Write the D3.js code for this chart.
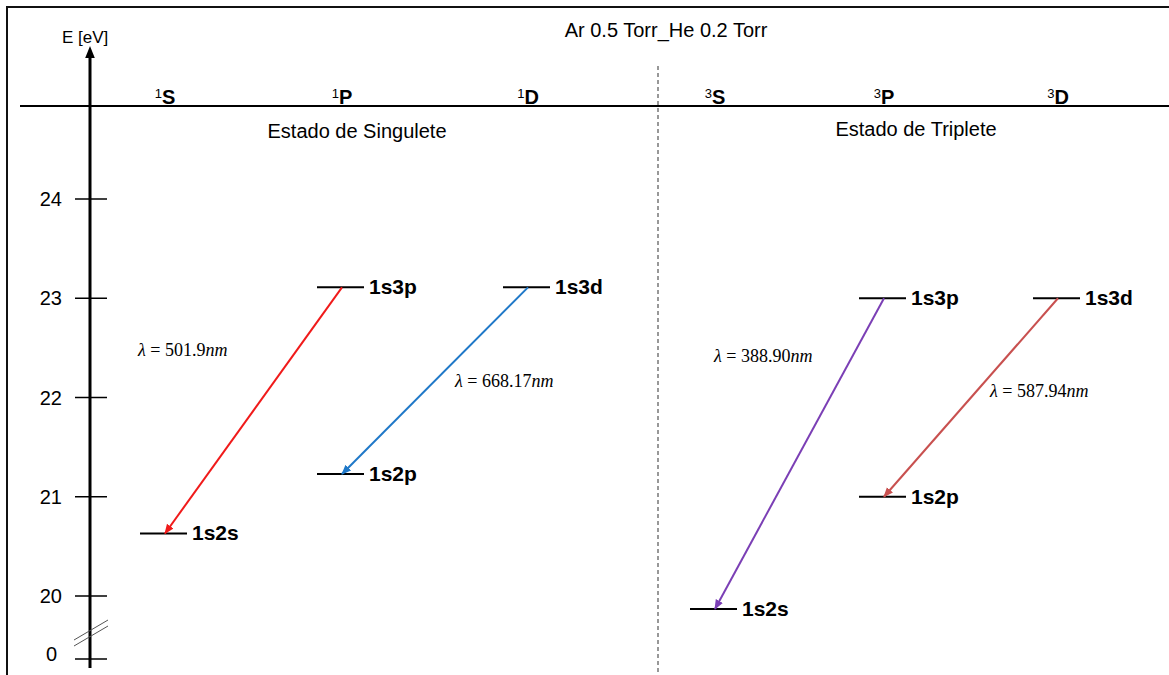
<!DOCTYPE html>
<html><head><meta charset="utf-8">
<script src="https://cdn.jsdelivr.net/npm/d3@7"></script>
<style>body{margin:0;background:#fff}text{font-family:"Liberation Sans",Arial,sans-serif}text.lam{font-family:"Liberation Serif",serif}</style>
</head><body><svg id="c" width="1169" height="675"></svg>
<script>
var ticks = [20, 21, 22, 23, 24];
var multiplicity = ["1", "1", "1", "3", "3", "3"];
var columns = ["S", "P", "D", "S", "P", "D"];
var colX = [165, 342, 528, 715, 884, 1058];
// levels: column index, energy (eV), label
var levels = [
  {col: 0, e: 20.63, name: "1s2s"},
  {col: 1, e: 21.23, name: "1s2p"},
  {col: 1, e: 23.11, name: "1s3p"},
  {col: 2, e: 23.11, name: "1s3d"},
  {col: 3, e: 19.87, name: "1s2s"},
  {col: 4, e: 21.0, name: "1s2p"},
  {col: 4, e: 23.0, name: "1s3p"},
  {col: 5, e: 23.0, name: "1s3d"}
];
// transitions: from level index to level index
var transitions = [
  {from: 2, to: 0, color: "#f01a1a", lam: "501.9", lx: 138, ly: 356},
  {from: 3, to: 1, color: "#1f78c8", lam: "668.17", lx: 455, ly: 387},
  {from: 6, to: 4, color: "#7b3fb5", lam: "388.90", lx: 714, ly: 362},
  {from: 7, to: 5, color: "#c8504f", lam: "587.94", lx: 990, ly: 397}
];

var svg = d3.select("#c");
var y = d3.scaleLinear().domain([20, 24]).range([596, 199]);
var axisX = 90;

svg.append("rect").attr("x", 7).attr("y", 7).attr("width", 1170).attr("height", 680)
  .attr("fill", "none").attr("stroke", "#111").attr("stroke-width", 2);

svg.append("text").attr("x", 666).attr("y", 37).attr("text-anchor", "middle")
  .attr("font-size", 20).text("Ar 0.5 Torr_He 0.2 Torr");

var defs = svg.append("defs");
defs.append("marker").attr("id", "ax").attr("viewBox", "0 0 10 10").attr("refX", 5).attr("refY", 5)
  .attr("markerWidth", 4).attr("markerHeight", 4).attr("orient", "auto")
  .append("path").attr("d", "M0,1L10,5L0,9Z").attr("fill", "#000");
transitions.forEach(function (t, i) {
  defs.append("marker").attr("id", "m" + i).attr("viewBox", "0 0 10 10").attr("refX", 9).attr("refY", 5)
    .attr("markerWidth", 5).attr("markerHeight", 5).attr("orient", "auto")
    .append("path").attr("d", "M0,1L10,5L0,9Z").attr("fill", t.color);
});

// axis
svg.append("line").attr("x1", axisX).attr("x2", axisX).attr("y1", 668).attr("y2", 52)
  .attr("stroke", "#000").attr("stroke-width", 3).attr("marker-end", "url(#ax)");
svg.append("text").attr("x", 62).attr("y", 43).attr("font-size", 17).text("E [eV]");
svg.append("line").attr("x1", 20).attr("x2", 1169).attr("y1", 106).attr("y2", 106)
  .attr("stroke", "#000").attr("stroke-width", 2);
svg.append("line").attr("x1", 658).attr("x2", 658).attr("y1", 66).attr("y2", 675)
  .attr("stroke", "#777").attr("stroke-width", 1.5).attr("stroke-dasharray", "4,3");

var tg = svg.append("g");
ticks.forEach(function (v) {
  tg.append("line").attr("x1", 75).attr("x2", 107).attr("y1", y(v)).attr("y2", y(v))
    .attr("stroke", "#000").attr("stroke-width", 1.5);
  tg.append("text").attr("x", 62).attr("y", y(v) + 7).attr("text-anchor", "end")
    .attr("font-size", 20).text(v);
});
tg.append("line").attr("x1", 75).attr("x2", 107).attr("y1", 659).attr("y2", 659).attr("stroke", "#000").attr("stroke-width", 1.5);
tg.append("text").attr("x", 57).attr("y", 661).attr("text-anchor", "end").attr("font-size", 20).text("0");
[0, 6].forEach(function (d) {
  tg.append("line").attr("x1", 74).attr("x2", 108).attr("y1", 646 - d).attr("y2", 626 - d)
    .attr("stroke", "#555").attr("stroke-width", 1);
});

// column headers
columns.forEach(function (c, i) {
  var t = svg.append("text").attr("x", colX[i]).attr("y", 104).attr("text-anchor", "middle")
    .attr("font-size", 20).attr("font-weight", "bold");
  t.append("tspan").attr("font-size", 13).attr("font-weight", "normal").attr("dy", -6).text(multiplicity[i]);
  t.append("tspan").attr("dy", 6).text(c);
});
svg.append("text").attr("x", 357).attr("y", 138).attr("text-anchor", "middle").attr("font-size", 20).text("Estado de Singulete");
svg.append("text").attr("x", 916).attr("y", 136).attr("text-anchor", "middle").attr("font-size", 20).text("Estado de Triplete");

// levels
svg.selectAll(".lv").data(levels).join("line").attr("class", "lv")
  .attr("x1", function (d) { return colX[d.col] - 25; })
  .attr("x2", function (d) { return colX[d.col] + 22; })
  .attr("y1", function (d) { return y(d.e); }).attr("y2", function (d) { return y(d.e); })
  .attr("stroke", "#000").attr("stroke-width", 2);
svg.selectAll(".ll").data(levels).join("text").attr("class", "ll")
  .attr("x", function (d) { return colX[d.col] + 27; })
  .attr("y", function (d) { return y(d.e) + 7; })
  .attr("font-size", 21).attr("font-weight", "bold")
  .text(function (d) { return d.name; });

// transitions
svg.selectAll(".tr").data(transitions).join("line").attr("class", "tr")
  .attr("x1", function (d) { return colX[levels[d.from].col]; })
  .attr("y1", function (d) { return y(levels[d.from].e); })
  .attr("x2", function (d) { return colX[levels[d.to].col]; })
  .attr("y2", function (d) { return y(levels[d.to].e); })
  .attr("stroke", function (d) { return d.color; }).attr("stroke-width", 2)
  .attr("marker-end", function (d, i) { return "url(#m" + i + ")"; });
svg.selectAll(".lam").data(transitions).join("text").attr("class", "lam")
  .attr("x", function (d) { return d.lx; }).attr("y", function (d) { return d.ly; })
  .attr("font-size", 18)
  .each(function (d) {
    var t = d3.select(this);
    t.append("tspan").attr("font-style", "italic").text("λ");
    t.append("tspan").text(" = " + d.lam);
    t.append("tspan").attr("font-style", "italic").text("nm");
  });
</script></body></html>
